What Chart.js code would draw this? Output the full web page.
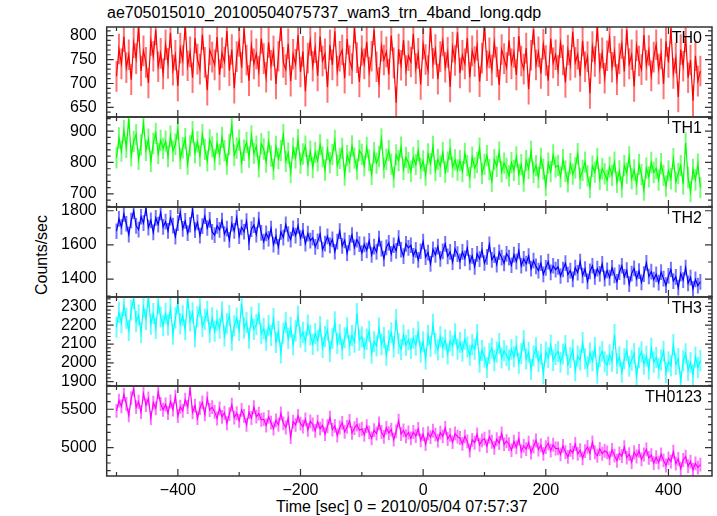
<!DOCTYPE html>
<html lang="en">
<head>
<meta charset="UTF-8">
<title>ae705015010 WAM light curve</title>
<script src="https://cdn.jsdelivr.net/npm/chart.js"></script>
<style>
  body { margin: 0; background: #fff; }
  #wrap { position: relative; width: 717px; height: 516px; overflow: hidden;
          font-family: 'Liberation Sans', Arial, sans-serif; color: #000; }
  #wrap canvas { position: absolute; left: 0; }
  .txt { position: absolute; font-size: 16px; line-height: 18px; white-space: nowrap; }
</style>
</head>
<body>
<div id="wrap">
  <div class="txt" style="left:107px;top:4px">ae705015010_20100504075737_wam3_trn_4band_long.qdp</div>
  <div class="txt" style="left:42px;top:255px;transform:translate(-50%,-50%) rotate(-90deg)">Counts/sec</div>
  <div class="txt" style="left:276px;top:498px">Time [sec] 0 = 2010/05/04 07:57:37</div>
</div>
<script>
// bins: 4 s wide, first bin at -500 s
const binStart = -500;
const binWidth = 4;
const bandNames = ['TH0', 'TH1', 'TH2', 'TH3', 'TH0123'];

// counts/sec per bin
const th0 = [
  715, 772, 741, 798, 733, 760, 708, 785, 752, 819, 726, 768, 744, 701, 790, 757, 812, 735, 763, 720,
  781, 742, 806, 728, 759, 695, 774, 748, 823, 737, 766, 712, 795, 751, 730, 802, 744, 686, 770, 755,
  739, 797, 718, 764, 745, 810, 727, 771, 690, 756, 788, 733, 815, 749, 706, 779, 741, 762, 725, 794,
  752, 713, 786, 738, 768, 699, 757, 821, 744, 729, 783, 705, 761, 740, 801, 724, 767, 684, 753, 790,
  736, 775, 716, 798, 747, 762, 692, 781, 739, 809, 726, 757, 770, 711, 793, 748, 731, 816, 754, 703,
  769, 741, 787, 724, 757, 812, 735, 702, 778, 749, 766, 719, 800, 743, 660, 772, 738, 791, 727, 758,
  745, 804, 731, 763, 698, 782, 750, 727, 818, 742, 771, 709, 756, 789, 734, 765, 693, 776, 748, 807,
  722, 759, 741, 795, 713, 768, 746, 780, 704, 753, 822, 737, 764, 728, 786, 745, 697, 771, 752, 733,
  790, 741, 765, 718, 799, 747, 730, 774, 688, 759, 813, 739, 766, 721, 782, 748, 706, 794, 743, 760,
  727, 785, 749, 702, 770, 738, 808, 744, 761, 715, 789, 735, 756, 679, 777, 746, 819, 731, 764, 711,
  758, 796, 734, 767, 708, 752, 783, 725, 812, 741, 760, 694, 779, 747, 729, 801, 738, 769, 716, 755,
  781, 730, 762, 699, 788, 744, 815, 721, 753, 672, 771, 736, 797, 712, 749, 664, 758, 705, 726
];
const th1 = [
  815, 878, 836, 902, 848, 940, 821, 867, 889, 810, 856, 925, 839, 874, 803, 861, 893, 828, 870, 845,
  868, 819, 884, 836, 858, 907, 812, 847, 876, 795, 853, 898, 831, 866, 820, 889, 842, 805, 872, 850,
  809, 861, 826, 880, 838, 795, 857, 920, 823, 846, 871, 800, 839, 864, 817, 885, 829, 852, 786, 860,
  843, 801, 866, 820, 779, 851, 812, 838, 889, 804, 830, 768, 846, 815, 873, 798, 827, 852, 790, 836,
  784, 832, 805, 857, 818, 776, 842, 799, 825, 870, 791, 813, 845, 760, 822, 801, 853, 814, 779, 838,
  826, 789, 848, 807, 762, 831, 798, 819, 875, 783, 810, 838, 795, 753, 824, 806, 849, 778, 816, 799,
  772, 816, 793, 838, 781, 805, 760, 827, 796, 851, 774, 810, 788, 832, 769, 801, 842, 785, 808, 776,
  806, 771, 829, 790, 752, 817, 783, 800, 846, 765, 794, 822, 778, 740, 809, 788, 833, 770, 798, 781,
  757, 799, 775, 818, 762, 793, 741, 806, 781, 835, 768, 790, 752, 813, 779, 726, 798, 771, 824, 785,
  791, 754, 809, 772, 738, 796, 763, 783, 828, 749, 775, 801, 757, 721, 788, 769, 812, 746, 780, 764,
  743, 785, 759, 801, 737, 773, 722, 790, 766, 818, 748, 776, 730, 794, 761, 712, 782, 754, 800, 768,
  781, 744, 796, 759, 725, 773, 748, 812, 738, 765, 790, 731, 862, 752, 707, 778, 745, 795, 720
];
const th2 = [
  1680, 1752, 1705, 1781, 1724, 1660, 1743, 1798, 1712, 1690, 1765, 1728, 1815, 1701, 1744, 1673, 1758, 1719, 1790, 1706,
  1736, 1682, 1759, 1713, 1648, 1727, 1790, 1694, 1741, 1669, 1718, 1805, 1687, 1732, 1655, 1710, 1768, 1699, 1746, 1676,
  1657, 1712, 1688, 1743, 1664, 1695, 1629, 1724, 1682, 1760, 1651, 1703, 1677, 1739, 1615, 1692, 1716, 1660, 1748, 1671,
  1619, 1668, 1636, 1695, 1602, 1650, 1588, 1676, 1643, 1720, 1664, 1631, 1697, 1655, 1712, 1640, 1683, 1608, 1666, 1625,
  1642, 1589, 1621, 1664, 1573, 1608, 1650, 1597, 1633, 1560, 1619, 1681, 1594, 1627, 1552, 1612, 1658, 1585, 1631, 1604,
  1552, 1603, 1568, 1624, 1541, 1590, 1559, 1637, 1578, 1520, 1586, 1612, 1547, 1598, 1565, 1640, 1573, 1534, 1606, 1583,
  1598, 1536, 1571, 1512, 1563, 1620, 1528, 1555, 1489, 1574, 1541, 1590, 1518, 1562, 1606, 1533, 1559, 1499, 1577, 1546,
  1503, 1559, 1521, 1582, 1497, 1536, 1472, 1548, 1517, 1571, 1494, 1530, 1603, 1512, 1540, 1485, 1557, 1526, 1492, 1548,
  1526, 1481, 1543, 1502, 1565, 1478, 1519, 1490, 1535, 1461, 1508, 1474, 1450, 1493, 1428, 1466, 1502, 1439, 1478, 1455,
  1472, 1418, 1456, 1493, 1426, 1450, 1398, 1467, 1437, 1502, 1421, 1459, 1386, 1445, 1478, 1412, 1461, 1430, 1489, 1403,
  1451, 1409, 1466, 1422, 1384, 1440, 1478, 1413, 1452, 1370, 1432, 1463, 1402, 1447, 1381, 1429, 1495, 1415, 1443, 1397,
  1428, 1379, 1441, 1402, 1364, 1419, 1456, 1388, 1413, 1350, 1432, 1394, 1467, 1375, 1409, 1342, 1398, 1361, 1384
];
const th3 = [
  2190, 2268, 2213, 2305, 2236, 2172, 2281, 2340, 2219, 2254, 2160, 2297, 2231, 2350, 2205, 2262, 2183, 2316, 2244, 2198,
  2263, 2201, 2289, 2152, 2238, 2315, 2207, 2250, 2176, 2342, 2222, 2266, 2139, 2245, 2298, 2193, 2231, 2274, 2163, 2240,
  2168, 2226, 2184, 2270, 2143, 2209, 2251, 2120, 2197, 2238, 2172, 2315, 2186, 2215, 2131, 2244, 2178, 2203, 2262, 2155,
  2182, 2121, 2198, 2146, 2235, 2108, 2167, 2053, 2159, 2214, 2130, 2189, 2097, 2170, 2248, 2136, 2162, 2112, 2201, 2148,
  2098, 2156, 2117, 2193, 2082, 2140, 2175, 2061, 2129, 2218, 2103, 2151, 2074, 2133, 2186, 2092, 2145, 2110, 2262, 2121,
  2139, 2078, 2126, 2168, 2051, 2112, 2090, 2185, 2097, 2134, 2040, 2119, 2160, 2085, 2230, 2103, 2071, 2148, 2094, 2123,
  2076, 2131, 2094, 2165, 2058, 2112, 2020, 2147, 2087, 2205, 2103, 2069, 2138, 2082, 2123, 2047, 2116, 2091, 2154, 2073,
  2108, 2062, 2125, 2084, 2040, 2097, 2072, 2150, 2003, 2066, 2031, 1975, 2049, 2078, 2012, 2057, 2103, 2026, 2064, 2038,
  2015, 2071, 2032, 2090, 1998, 2048, 2119, 2021, 2056, 1965, 2037, 2080, 2008, 2046, 1942, 2058, 2027, 2095, 2013, 2044,
  2061, 2003, 2047, 2092, 1990, 2028, 2070, 1958, 2036, 2015, 2108, 2022, 1979, 2053, 2011, 2082, 1945, 2034, 2060, 2006,
  1988, 2043, 2009, 2151, 1997, 2032, 1950, 2021, 2066, 1982, 2014, 2049, 1930, 2027, 2058, 1993, 2035, 1966, 2078, 2004,
  2029, 1971, 2015, 2062, 1948, 2006, 1985, 2097, 1992, 2023, 1902, 2011, 2048, 1960, 2002, 1937, 2031, 1975, 2012
];
const th0123 = [
  5480, 5612, 5538, 5690, 5571, 5421, 5645, 5760, 5527, 5598, 5462, 5703, 5553, 5640, 5386, 5586, 5512, 5725, 5569, 5494,
  5562, 5451, 5601, 5497, 5664, 5412, 5533, 5478, 5625, 5530, 5770, 5459, 5548, 5384, 5516, 5589, 5435, 5642, 5490, 5527,
  5466, 5380, 5512, 5402, 5455, 5318, 5437, 5560, 5391, 5448, 5350, 5491, 5413, 5297, 5462, 5386, 5529, 5404, 5443, 5362,
  5371, 5289, 5402, 5325, 5248, 5356, 5298, 5445, 5317, 5263, 5382, 5139, 5340, 5296, 5414, 5312, 5275, 5368, 5231, 5343,
  5302, 5219, 5338, 5247, 5291, 5176, 5279, 5390, 5236, 5284, 5158, 5263, 5322, 5205, 5270, 5348, 5192, 5255, 5301, 5227,
  5246, 5167, 5281, 5198, 5122, 5229, 5183, 5316, 5204, 5141, 5258, 5190, 5236, 5105, 5213, 5352, 5178, 5224, 5149, 5197,
  5121, 5204, 5152, 5243, 5096, 5175, 5047, 5188, 5138, 5220, 5169, 5091, 5196, 5148, 5257, 5113, 5167, 5072, 5185, 5143,
  5126, 5049, 5147, 5081, 4962, 5102, 5064, 5173, 5036, 5095, 5118, 5021, 5142, 5077, 4998, 5110, 5061, 5187, 5043, 5084,
  5045, 4968, 5079, 5003, 5117, 4951, 5024, 4982, 5066, 4935, 5015, 5093, 4976, 5031, 4920, 5008, 5057, 4962, 5038, 4989,
  4991, 4912, 5024, 4943, 4880, 4972, 4935, 5048, 4918, 4966, 4861, 4955, 5011, 4927, 5069, 4940, 4895, 4983, 4921, 4958,
  4938, 4862, 4971, 4897, 4830, 4925, 4889, 5008, 4871, 4916, 4812, 4940, 4885, 4959, 4847, 4911, 4978, 4866, 4902, 4799,
  4876, 4805, 4913, 4834, 4768, 4861, 4820, 4947, 4791, 4852, 4725, 4839, 4884, 4760, 4818, 4712, 4795, 4741, 4780
];
// typical 1-sigma error per band
const errors = [32, 34, 46, 56, 90];

// axis ranges and labelled ticks
const xMin = -516, xMax = 471;
const xTicks = [-400, -200, 0, 200, 400];
const yMins = [630, 658, 1295, 1877, 4631];
const yMaxs = [818, 945, 1822, 2350, 5803];
const yTicks = [
  [650, 700, 750, 800],
  [700, 800, 900],
  [1400, 1600, 1800],
  [1900, 2000, 2100, 2200, 2300],
  [5000, 5500]
];
const yMajor = [50, 100, 200, 100, 500];
const yMinor = [10, 20, 100, 20, 100];

const series = [th0, th1, th2, th3, th0123];
const colors = ['#ff0000', '#00ff00', '#0000ff', '#00ffff', '#ff00ff'];
const lightColors = ['rgba(255,0,0,0.55)', 'rgba(0,255,0,0.55)', 'rgba(0,0,255,0.55)', 'rgba(0,255,255,0.6)', 'rgba(255,0,255,0.55)'];

// panel edges in page pixels
const edges = [27, 117, 207, 297, 386, 476];
const margin = 10;

Chart.defaults.font.family = "'Liberation Sans', Arial, sans-serif";
Chart.defaults.font.size = 16;
Chart.defaults.color = '#000';

// error bars under the line, frame and inward ticks on top
const qdpFrame = {
  id: 'qdpFrame',
  beforeDatasetsDraw(chart, args, opts) {
    const ctx = chart.ctx, a = chart.chartArea;
    const xs = chart.scales.x, ys = chart.scales.y;
    ctx.save();
    ctx.beginPath();
    ctx.rect(a.left, a.top, a.width, a.height);
    ctx.clip();
    ctx.strokeStyle = opts.light;
    ctx.lineWidth = 2;
    ctx.beginPath();
    chart.data.datasets[0].data.forEach(p => {
      const px = xs.getPixelForValue(p.x);
      ctx.moveTo(px, ys.getPixelForValue(p.y + opts.err));
      ctx.lineTo(px, ys.getPixelForValue(p.y - opts.err));
    });
    ctx.stroke();
    ctx.restore();
  },
  afterDraw(chart, args, opts) {
    const ctx = chart.ctx, a = chart.chartArea;
    const xs = chart.scales.x, ys = chart.scales.y;
    ctx.save();
    ctx.strokeStyle = '#333';
    ctx.lineWidth = 1.2;
    ctx.beginPath();
    // x ticks every 100 s, longer every 200 s
    for (let t = -500; t <= 400; t += 100) {
      const px = xs.getPixelForValue(t);
      const len = t % 200 === 0 ? 7 : 4;
      ctx.moveTo(px, a.top); ctx.lineTo(px, a.top + len);
      ctx.moveTo(px, a.bottom); ctx.lineTo(px, a.bottom - len);
    }
    // y ticks, left and right
    const first = Math.ceil(ys.min / opts.minor) * opts.minor;
    for (let v = first; v <= ys.max; v += opts.minor) {
      const py = ys.getPixelForValue(v);
      const len = v % opts.major === 0 ? 7 : 4;
      ctx.moveTo(a.left, py); ctx.lineTo(a.left + len, py);
      ctx.moveTo(a.right, py); ctx.lineTo(a.right - len, py);
    }
    ctx.stroke();
    ctx.lineWidth = 1.5;
    ctx.strokeRect(a.left, a.top, a.width, a.height);
    ctx.restore();
  }
};

const wrap = document.getElementById('wrap');

series.forEach((vals, i) => {
  const last = i === series.length - 1;
  const canvas = document.createElement('canvas');
  const top = edges[i] - margin;
  const height = last ? 516 - top : (edges[i + 1] - edges[i]) + 2 * margin;
  canvas.width = 717;
  canvas.height = height;
  canvas.style.top = top + 'px';
  wrap.appendChild(canvas);

  const label = document.createElement('div');
  label.className = 'txt';
  label.style.right = '15px';
  label.style.top = (edges[i] + 2) + 'px';
  label.textContent = bandNames[i];
  wrap.appendChild(label);

  const points = vals.map((v, k) => ({ x: binStart + k * binWidth, y: v }));

  new Chart(canvas, {
    type: 'line',
    data: {
      datasets: [{
        label: bandNames[i],
        data: points,
        borderColor: colors[i],
        borderWidth: 1.2,
        pointRadius: 0
      }]
    },
    options: {
      responsive: false,
      animation: false,
      devicePixelRatio: 1,
      layout: { padding: { top: margin, bottom: last ? 0 : margin, left: 0, right: 5 } },
      plugins: {
        legend: { display: false },
        tooltip: { enabled: false },
        qdpFrame: { err: errors[i], light: lightColors[i], minor: yMinor[i], major: yMajor[i] }
      },
      scales: {
        x: {
          type: 'linear',
          min: xMin,
          max: xMax,
          display: last,
          grid: { display: false, drawTicks: false },
          border: { display: false },
          ticks: {
            autoSkip: false,
            padding: 5,
            maxRotation: 0,
            callback: v => String(v).replace('-', '\u2212')
          },
          afterBuildTicks: s => { s.ticks = xTicks.map(v => ({ value: v })); },
          afterFit: s => { s.height = last ? 40 : 0; s.paddingLeft = 0; s.paddingRight = 0; }
        },
        y: {
          min: yMins[i],
          max: yMaxs[i],
          grid: { display: false, drawTicks: false },
          border: { display: false },
          ticks: { autoSkip: false, padding: 10, callback: v => String(v) },
          afterBuildTicks: s => { s.ticks = yTicks[i].map(v => ({ value: v })); },
          afterFit: s => { s.width = 106.7; s.paddingTop = 0; s.paddingBottom = 0; }
        }
      }
    },
    plugins: [qdpFrame]
  });
});
</script>
</body>
</html>
